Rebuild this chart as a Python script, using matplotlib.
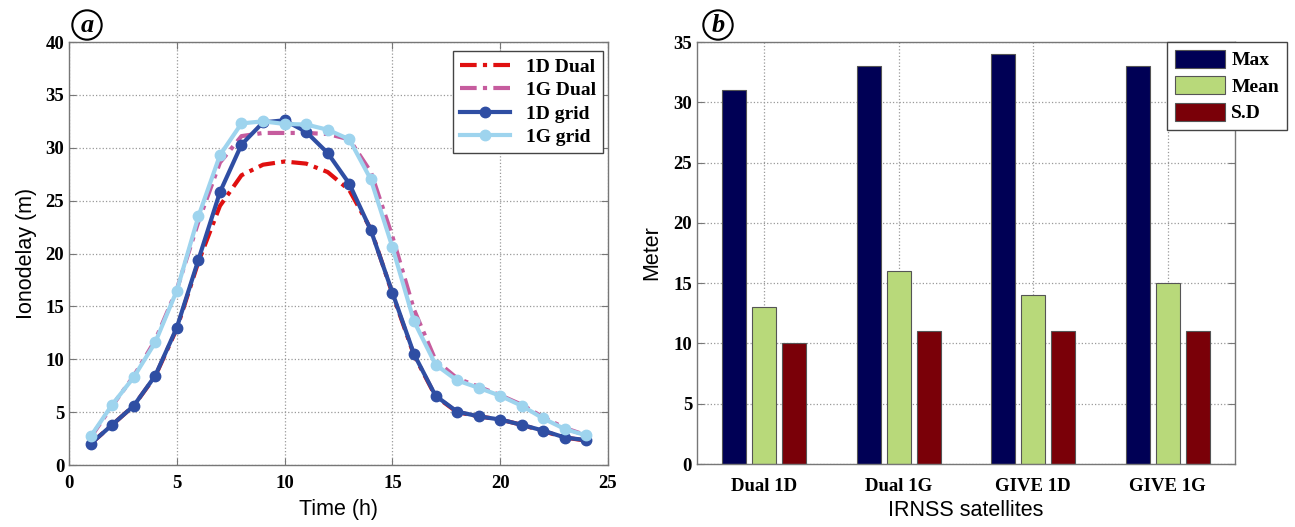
"""Ionodelay over the day and IRNSS error statistics"""
import matplotlib
matplotlib.use("Agg")
from matplotlib import pyplot as plt
import numpy as np

hours = list(range(1, 25))
d1_dual = [2.0, 3.8, 5.6, 8.4, 12.9, 19.2, 24.5, 27.4, 28.4, 28.7, 28.5, 27.7,
           26.0, 22.3, 16.2, 10.4, 6.5, 5.0, 4.6, 4.3, 3.8, 3.2, 2.6, 2.3]
g1_dual = [2.6, 5.6, 8.4, 11.8, 16.6, 23.0, 28.6, 31.1, 31.4, 31.4, 31.4, 31.3,
           30.8, 27.7, 21.6, 14.7, 9.9, 8.2, 7.4, 6.6, 5.7, 4.5, 3.5, 2.8]
d1_grid = [2.0, 3.8, 5.6, 8.45, 13.0, 19.4, 25.8, 30.3, 32.4, 32.6, 31.5, 29.5,
           26.6, 22.2, 16.3, 10.5, 6.55, 5.05, 4.6, 4.3, 3.8, 3.25, 2.6, 2.35]
g1_grid = [2.7, 5.7, 8.3, 11.6, 16.5, 23.5, 29.3, 32.3, 32.5, 32.25, 32.2, 31.7,
           30.8, 27.0, 20.6, 13.6, 9.5, 8.0, 7.3, 6.55, 5.6, 4.4, 3.4, 2.8]

groups = ["Dual 1D", "Dual 1G", "GIVE 1D", "GIVE 1G"]
max_vals = [31, 33, 34, 33]
mean_vals = [13, 16, 14, 15]
sd_vals = [10, 11, 11, 11]

serif = "Liberation Serif"
sans = "Liberation Sans"

fig = plt.figure(figsize=(12.95, 5.27), dpi=100)


def matlab_style(ax):
    for s in ax.spines.values():
        s.set_color("#777777")
        s.set_linewidth(1.0)
    ax.tick_params(direction="in", top=True, right=True, length=5,
                   color="#777777", labelsize=13.5)
    ax.grid(True, linestyle=":", color="#999999", linewidth=0.9)
    for lab in ax.get_xticklabels() + ax.get_yticklabels():
        lab.set_fontfamily(serif)
        lab.set_fontweight("bold")


# panel a
ax1 = fig.add_axes([0.0533, 0.1176, 0.4162, 0.8027])
ax1.plot(hours, d1_dual, linestyle=(0, (4, 1.5, 1, 1.5)), color="#e01010", lw=3, label="1D Dual")
ax1.plot(hours, g1_dual, linestyle=(0, (4, 1.5, 1, 1.5)), color="#c65c9e", lw=3, label="1G Dual")
ax1.plot(hours, d1_grid, "-o", color="#2f4ea3", lw=3, ms=7.5, label="1D grid")
ax1.plot(hours, g1_grid, "-o", color="#9ed4ee", lw=3, ms=7.5, label="1G grid")
ax1.set_xlim(0, 25)
ax1.set_ylim(0, 40)
ax1.set_xticks(np.arange(0, 26, 5))
ax1.set_yticks(np.arange(0, 41, 5))
matlab_style(ax1)
ax1.tick_params(axis="x", pad=7)
ax1.set_xlabel("Time (h)", fontfamily=sans, fontsize=15.5, labelpad=5)
ax1.set_ylabel("Ionodelay (m)", fontfamily=sans, fontsize=15.5, labelpad=6)
leg1 = ax1.legend(loc="upper right", bbox_to_anchor=(0.99, 0.978),
                  prop={"family": serif, "weight": "bold", "size": 14},
                  fancybox=False, edgecolor="#444444", framealpha=1,
                  handlelength=2.6, borderpad=0.35, labelspacing=0.3,
                  borderaxespad=0)
leg1.get_frame().set_linewidth(1.0)

# panel b
ax2 = fig.add_axes([0.5382, 0.1195, 0.4154, 0.8008])
x = np.arange(1, len(groups) + 1)
w = 0.178
off = 0.223
ax2.bar(x - off, max_vals, w, color="#000055", edgecolor="#555555", lw=0.8, label="Max")
ax2.bar(x, mean_vals, w, color="#b8d97a", edgecolor="#555555", lw=0.8, label="Mean")
ax2.bar(x + off, sd_vals, w, color="#7a0008", edgecolor="#555555", lw=0.8, label="S.D")
ax2.set_xlim(0.5, 4.5)
ax2.set_ylim(0, 35)
ax2.set_xticks(x)
ax2.set_xticklabels(groups)
ax2.set_yticks(np.arange(0, 36, 5))
ax2.set_axisbelow(True)
matlab_style(ax2)
ax2.tick_params(axis="x", length=0, pad=10)
ax2.set_xlabel("IRNSS satellites", fontfamily=sans, fontsize=15.5, labelpad=4)
ax2.set_ylabel("Meter", fontfamily=sans, fontsize=15.5, labelpad=8)
leg2 = ax2.legend(loc="upper left", bbox_to_anchor=(0.874, 1.0),
                  prop={"family": serif, "weight": "bold", "size": 14},
                  fancybox=False, edgecolor="#444444", framealpha=1,
                  handlelength=2.6, handleheight=1.05, borderpad=0.4,
                  labelspacing=0.35, handletextpad=0.3, borderaxespad=0)
leg2.get_frame().set_linewidth(1.0)

# panel tags
for xp, tag in [(87 / 1295, "a"), (718 / 1295, "b")]:
    fig.text(xp, 1 - 25 / 527, tag, fontfamily=serif, fontweight="bold",
             style="italic", fontsize=19, ha="center", va="center",
             bbox=dict(boxstyle="circle,pad=0.12", fc="white", ec="black", lw=1.5))

fig.savefig("out.png", dpi=100)
